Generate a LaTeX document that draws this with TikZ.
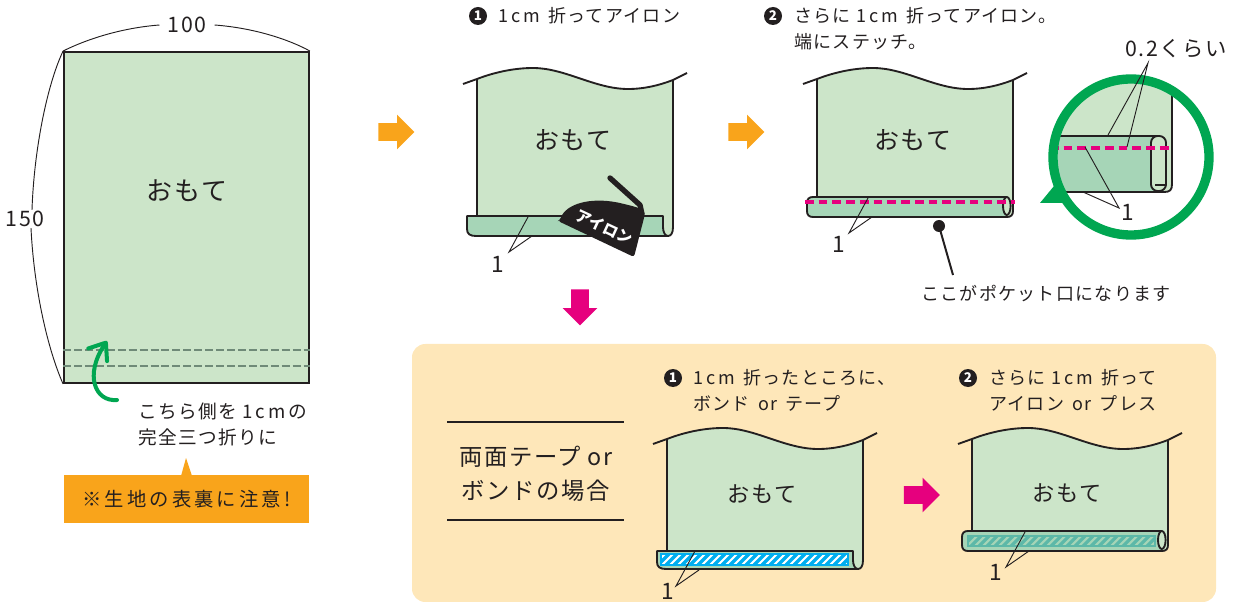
\documentclass[tikz,border=0pt]{standalone}
\usepackage{fontspec}
\setmainfont{Noto Sans CJK JP}
\newfontfamily\jpfont[LetterSpace=7]{Noto Sans CJK JP}
\newfontfamily\jpwide[LetterSpace=16]{Noto Sans CJK JP}
\usepackage{tikz}
\usetikzlibrary{calc, positioning, arrows.meta, shapes.arrows}

\definecolor{clothgreen}{HTML}{CCE5C9}
\definecolor{hemgreen}{HTML}{A6D5B7}
\definecolor{panelyellow}{HTML}{FEE7B9}
\definecolor{noteorange}{HTML}{F9A41B}
\definecolor{pinkmark}{HTML}{E6007E}
\definecolor{ringgreen}{HTML}{00A651}
\definecolor{tapeblue}{HTML}{00AEEF}
\definecolor{tapeteal}{HTML}{5DB8A8}
\definecolor{inkgray}{HTML}{231F20}
\definecolor{basteline}{HTML}{6F8A78}

\tikzset{
  foldline/.style={draw=inkgray, line width=1.4pt, line join=round},
  leader/.style={draw=inkgray, line width=0.7pt},
  baste/.style={draw=basteline, line width=0.8pt, dash pattern=on 6pt off 2.2pt},
  stitch/.style={draw=pinkmark, line width=2.4pt, dash pattern=on 6.5pt off 3.8pt},
  txt/.style={inner sep=0pt, text=inkgray, font=\jpfont\fontsize{13.5}{19.5}\selectfont, align=left},
  omote/.style={inner sep=0pt, text=inkgray, font=\jpfont\fontsize{18.8}{20}\selectfont},
  smallomote/.style={omote, font=\jpfont\fontsize{16.7}{20}\selectfont},
  numlabel/.style={inner sep=0pt, text=inkgray, font=\fontsize{17}{18}\selectfont},
  dimlabel/.style={inner sep=0pt, text=inkgray, font=\jpfont\fontsize{16}{18}\selectfont},
  numdot/.style={circle, fill=inkgray, text=white, inner sep=0pt, minimum size=13.5pt, font=\bfseries\fontsize{10}{10}\selectfont},
  blockarrow/.style={single arrow, inner xsep=0pt, inner ysep=6.4pt, minimum height=27pt, single arrow head extend=6.4pt, single arrow head indent=0pt},
  node distance=8pt
}

\newcommand{\onecm}{1\,c\,m\,}
\newcommand{\clothsheet}[1]{
  \fill[clothgreen] (477,79) .. controls (495,72) and (515,68) .. (533,68) .. controls (565,68) and (595,89) .. (628,89) .. controls (645,89) and (660,85) .. (673,80) -- (673,#1) -- (477,#1) -- cycle;
  \draw[foldline] (463,84) -- (477,79) .. controls (495,72) and (515,68) .. (533,68) .. controls (565,68) and (595,89) .. (628,89) .. controls (645,89) and (660,85) .. (673,80) -- (687,73);
  \draw[foldline] (477,79) -- (477,#1);
}
\newcommand{\openhem}[2]{
  \fill[clothgreen] (663,#1) -- (673,#1) -- (673,#2-9) .. controls (673,#2-3) and (671,#2) .. (668,#2) .. controls (665,#2) and (663,#2-4) .. (663,#2-9) -- cycle;
  \draw[foldline, fill=hemgreen] (663,#2-9) -- (663,#1) -- (467,#1) -- (467,#2-7) .. controls (467,#2-2) and (470,#2) .. (476,#2) -- (668,#2) .. controls (665,#2) and (663,#2-4) .. (663,#2-9);
  \draw[foldline] (673,80) -- (673,#2-9) .. controls (673,#2-3) and (671,#2) .. (668,#2);
}
\newcommand{\rolledhem}[2]{
  \fill[clothgreen] (667,#1) -- (673,#1) -- (673,#2-6) .. controls (673,#2-2) and (671,#2) .. (667,#2) -- cycle;
  \draw[foldline, fill=hemgreen] (667,#1) -- (473,#1) .. controls (469,#1) and (467,#1+2) .. (467,#1+6) -- (467,#2-6) .. controls (467,#2-2) and (469,#2) .. (473,#2) -- (667,#2);
  \draw[foldline] (673,80) -- (673,#2-6) .. controls (673,#2-2) and (671,#2) .. (667,#2);
  \draw[foldline, fill=clothgreen] (666.8,{(#1+#2)/2-1}) ellipse (3.8 and 9);
}
\newcommand{\hemleader}[3]{
  \node[numlabel] (#1) at (#2,#3) {1};
  \coordinate (#1apex) at (509,252);
  \coordinate (#1top) at (528,217);
  \coordinate (#1low) at (532,236);
  \draw[leader] (#1top) -- (#1apex) -- (#1low);
}
\newcommand{\tapebar}[6]{
  \fill[#5] (#1,#2) rectangle (#3,#4);
  \begin{scope}
    \clip (#1,#2) rectangle (#3,#4);
    \foreach \sx in {460,468,...,670}
      \draw[#6, line width=2.4pt] (\sx,#4) -- (\sx+#4-#2,#2);
  \end{scope}
  \draw[#6, line width=1.5pt] (#1,#2) rectangle (#3,#4);
}

\begin{document}
\begin{tikzpicture}[x=0.75pt, y=-0.75pt]
\useasboundingbox (0,0) rectangle (1239,602);

\fill[panelyellow, rounded corners=10pt] (412,344) rectangle (1216,602);

\node (sheet) [draw=inkgray, line width=1.4pt, fill=clothgreen, inner sep=0pt, minimum width=183.75pt, minimum height=248.25pt] at (186.5,217.5) {};
\node[omote, font=\jpfont\fontsize{19.5}{20}\selectfont] (sheettxt) at (187,191) {おもて};
\draw[baste] (sheet.west |- 0,350) -- (sheet.east |- 0,350);
\draw[baste] (sheet.west |- 0,366) -- (sheet.east |- 0,366);

\node[dimlabel] (dimw) at (187,25) {100};
\node[dimlabel] (dimh) at (25,219) {150};
\draw[leader] (sheet.north west) .. controls (85,40) and (120,28) .. ($(dimw.west)+(-8,0)$);
\draw[leader] ($(dimw.east)+(8,0)$) .. controls (255,28) and (290,40) .. (sheet.north east);
\draw[leader] (sheet.north west) .. controls (47,85) and (34,150) .. ($(dimh.north)+(7,-1)$);
\draw[leader] ($(dimh.south)+(6,1)$) .. controls (34,290) and (48,350) .. (sheet.south west);

\coordinate (turnstart) at (117,400);
\coordinate (turnend) at (107,341);
\draw[ringgreen, line width=3pt, line cap=round, -{Straight Barb[length=11pt, width=17pt, round]}] (turnstart) .. controls (95,402) and (84,375) .. (turnend);
\node[txt, anchor=north west, font=\jpfont\fontsize{14}{19.5}\selectfont] (turntxt) at (138,403) {こちら側を \onecm の\\完全三つ折りに};

\node (note) [fill=noteorange, inner sep=0pt, minimum width=183.75pt, minimum height=36pt, text=inkgray, font=\jpwide\fontsize{14.5}{16}\selectfont] at (186.5,499) {※生地の表裏に注意!};
\fill[noteorange] (181,476) -- (186,458) -- (192,476) -- cycle;

\node[blockarrow, fill=noteorange] (arrowa) at (392,132) {};
\node[blockarrow, fill=noteorange] (arrowb) at (742,132) {};
\node[blockarrow, fill=pinkmark, rotate=-90] (arrowc) at (580,303) {};
\node[blockarrow, fill=pinkmark] (arrowd) at (917.5,495) {};

\node[numdot] (stepa) at (478,16) {1};
\node[txt, right=of stepa] (stepatxt) {\onecm\ 折ってアイロン};
\clothsheet{216}
\openhem{216}{236}
\node[omote] (omotea) at (573,140) {おもて};
\hemleader{onea}{498}{264}
\draw[inkgray, line width=4pt, line cap=round, line join=round] (610,178) -- (640,205) -- (642,214);
\fill[inkgray, rounded corners=2pt] (560,220) .. controls (566,204) and (590,197) .. (620,203) .. controls (632,206) and (642,208) .. (645,214) -- (634,257) -- (558,221) -- cycle;
\node[inner sep=0pt, text=white, rotate=-25, font=\bfseries\fontsize{11.5}{12}\selectfont] (irontxt) at (604,227) {アイロン};

\begin{scope}[shift={(340,0)}]
  \clothsheet{197}
  \rolledhem{197}{217}
  \node[omote] (omoteb) at (573,140) {おもて};
\end{scope}
\draw[stitch] (805,202) -- (1015,202);
\begin{scope}[shift={(340,-19)}]
  \hemleader{oneb}{499}{263}
\end{scope}
\node[numdot] (stepb) at (773,16) {2};
\node[txt, anchor=north west] (stepbtxt) at (794,7) {さらに \onecm\ 折ってアイロン。\\端にステッチ。};
\node[circle, fill=inkgray, inner sep=0pt, minimum size=9pt] (pocketdot) at (939,226) {};
\node[txt] (pockettxt) at (1046,294) {ここがポケット口になります};
\coordinate (pocketend) at (953,275);
\draw[inkgray, line width=1.5pt] (pocketdot.center) -- (pocketend);

\fill[ringgreen] (1040,203) -- (1054,186) -- (1064,203) -- cycle;
\begin{scope}
  \clip (1131,157) circle (78);
  \fill[clothgreen] (1040,60) -- (1172,60) -- (1172,184) .. controls (1172,190) and (1170,192) .. (1164,192) -- (1040,192) -- cycle;
  \draw[foldline] (1172,60) -- (1172,184) .. controls (1172,190) and (1170,192) .. (1164,192);
  \draw[foldline, fill=hemgreen] (1158,136) -- (1040,136) -- (1040,192) -- (1164,192);
  \draw[foldline, fill=clothgreen, rounded corners=5pt] (1151,136) rectangle (1166,191);
  \draw[foldline] (1166,145) -- (1166,185) -- (1155,185);
  \draw[stitch] (1050,148) -- (1172,148);
\end{scope}
\node[circle, draw=ringgreen, line width=7pt, inner sep=0pt, minimum size=117pt] (zoomring) at (1131,157) {};
\node[dimlabel] (fineval) at (1176,49) {0.2くらい};
\coordinate (finetip) at (1148,63);
\coordinate (finetop) at (1108,135);
\coordinate (finelow) at (1127,147);
\draw[leader] (finetop) -- (finetip) -- (finelow);
\node[numlabel] (onec) at (1128,212) {1};
\coordinate (onectip) at (1119,208);
\coordinate (onectop) at (1085,147);
\coordinate (oneclow) at (1083,192);
\draw[leader] (onectop) -- (onectip) -- (oneclow);

\draw[inkgray, line width=1.8pt] (447,422) -- (624,422);
\draw[inkgray, line width=1.8pt] (447,520) -- (624,520);
\node[inner sep=0pt, text=inkgray, align=center, font=\jpfont\fontsize{17.5}{25.5}\selectfont] (casetxt) at (536,474) {両面テープ or\\ボンドの場合};

\node[numdot] (stepc) at (673,378) {1};
\node[txt, anchor=north west] (stepctxt) at (693,369) {\onecm\ 折ったところに、\\ボンド \,or\, テープ};
\begin{scope}[shift={(190,360)}]
  \clothsheet{191}
  \openhem{191}{209}
  \node[smallomote] (omotec) at (572,134) {おもて};
  \tapebar{471}{194}{658}{205}{white}{tapeblue}
\end{scope}
\begin{scope}[shift={(167,334)}]
  \hemleader{oned}{501}{257}
\end{scope}

\node[numdot] (stepd) at (968,378) {2};
\node[txt, anchor=north west] (stepdtxt) at (989,369) {さらに \onecm\ 折って\\アイロン \,or\, プレス};
\begin{scope}[shift={(495,360)}]
  \clothsheet{171}
  \rolledhem{171}{191}
  \node[smallomote] (omotee) at (572,133) {おもて};
  \tapebar{473}{176}{660}{186}{hemgreen}{tapeteal}
\end{scope}
\begin{scope}[shift={(497,315)}]
  \hemleader{onee}{499}{257}
\end{scope}
\end{tikzpicture}
\end{document}
